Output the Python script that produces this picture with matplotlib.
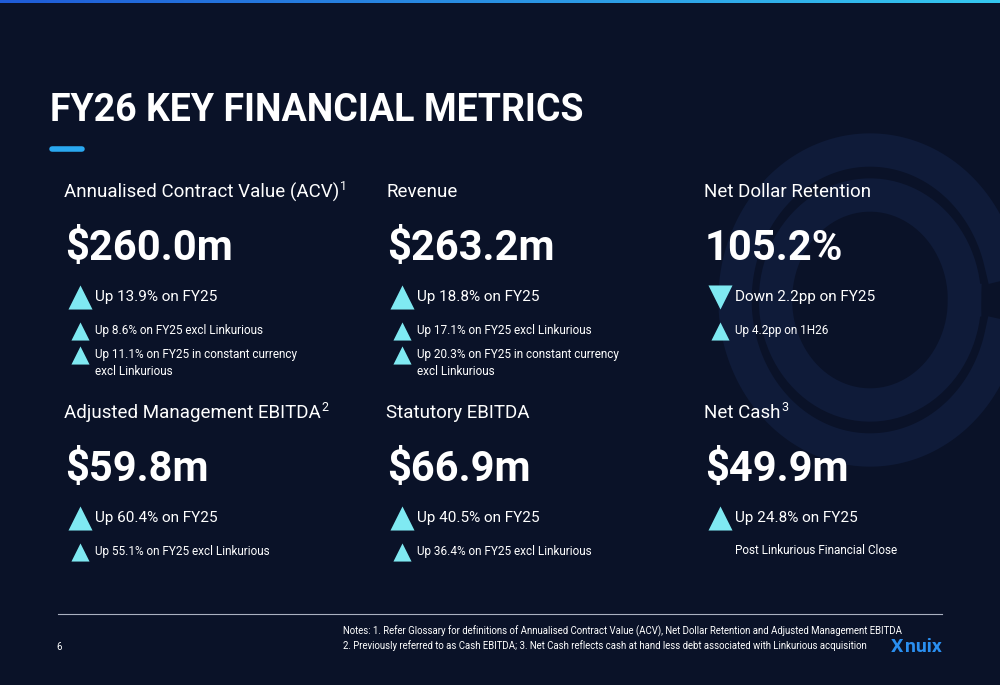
import matplotlib.pyplot as plt
import numpy as np

plt.rcParams['font.family'] = ['Roboto', 'DejaVu Sans']

bg = '#0a1228'
cyan = '#7fe9f2'
white = '#ffffff'

# ------- slide content --------
# each column: (x, y, title, superscript, headline, [(direction, size, text, sub text)])
metrics = [
  (64, 192, 'Annualised Contract Value (ACV)', '1', '$260.0m',
   [('up', 'big', 'Up 13.9% on FY25', ''),
    ('up', 'small', 'Up 8.6% on FY25 excl Linkurious', ''),
    ('up', 'small', 'Up 11.1% on FY25 in constant currency', 'excl Linkurious')]),
  (386, 192, 'Revenue', '', '$263.2m',
   [('up', 'big', 'Up 18.8% on FY25', ''),
    ('up', 'small', 'Up 17.1% on FY25 excl Linkurious', ''),
    ('up', 'small', 'Up 20.3% on FY25 in constant currency', 'excl Linkurious')]),
  (704, 192, 'Net Dollar Retention', '', '105.2%',
   [('down', 'big', 'Down 2.2pp on FY25', ''),
    ('up', 'small', 'Up 4.2pp on 1H26', '')]),
  (64, 413, 'Adjusted Management EBITDA', '2', '$59.8m',
   [('up', 'big', 'Up 60.4% on FY25', ''),
    ('up', 'small', 'Up 55.1% on FY25 excl Linkurious', '')]),
  (386, 413, 'Statutory EBITDA', '', '$66.9m',
   [('up', 'big', 'Up 40.5% on FY25', ''),
    ('up', 'small', 'Up 36.4% on FY25 excl Linkurious', '')]),
  (704, 413, 'Net Cash', '3', '$49.9m',
   [('up', 'big', 'Up 24.8% on FY25', ''),
    ('none', 'small', 'Post Linkurious Financial Close', '')]),
]

fig = plt.figure(figsize=(10, 6.85), dpi=100, facecolor=bg)
ax = fig.add_axes([0, 0, 1, 1])
ax.set_xlim(0, 1000)
ax.set_ylim(685, 0)
ax.set_facecolor(bg)
ax.axis('off')

# top gradient bar
grad = np.linspace(0, 1, 256).reshape(1, -1)
ax.imshow(grad, extent=[0, 1000, 3, 0], cmap=plt.matplotlib.colors.LinearSegmentedColormap.from_list('g', ['#1f5bd8', '#35c8f0']), aspect='auto')
ax.set_xlim(0, 1000)
ax.set_ylim(685, 0)

# faint background logo
for r in [150, 105]:
  t = np.linspace(0, 2*np.pi, 200)
  ax.plot(870 + r*np.cos(t)*0.9, 300 + r*np.sin(t), color='#14244a', lw=24, alpha=0.5, zorder=0)

ax.text(50, 110, 'FY26 KEY FINANCIAL METRICS', color=white, fontsize=27, fontweight='bold', va='center')
ax.plot([52, 82], [149, 149], color='#2aa8f0', lw=4, solid_capstyle='round')

fig.canvas.draw()
for x, y, title, sup, head, lines in metrics:
  t = ax.text(x, y, title, color=white, fontsize=13.5, va='center')
  if sup:
    bb = t.get_window_extent(renderer=fig.canvas.get_renderer()).transformed(ax.transData.inverted())
    ax.text(bb.x1 + 1, y - 6, sup, color=white, fontsize=9, va='center')
  ax.text(x + 1, y + 56, head, color=white, fontsize=30, fontweight='bold', va='center')
  ly = y + 105
  for direction, size, txt, sub in lines:
    if size == 'big':
      if direction != 'none':
        ax.scatter(x + 16, ly, marker='^' if direction == 'up' else 'v', s=300, color=cyan, linewidths=0)
      ax.text(x + 31, ly, txt, color=white, fontsize=11, va='center')
      ly += 33
    else:
      if direction != 'none':
        ax.scatter(x + 16, ly + 1, marker='^', s=170, color=cyan, linewidths=0)
      ax.text(x + 31, ly, txt, color=white, fontsize=8.5, va='center')
      ly += 24
      if sub:
        ax.text(x + 31, ly - 7, sub, color=white, fontsize=8.5, va='center')

# footer
ax.plot([58, 942], [614, 614], color='#aab0c0', lw=0.8)
ax.text(56, 647, '6', color=white, fontsize=7, va='center')
ax.text(343, 631, 'Notes: 1. Refer Glossary for definitions of Annualised Contract Value (ACV), Net Dollar Retention and Adjusted Management EBITDA',
        color=white, fontsize=6.9, va='center')
ax.text(343, 646, '2. Previously referred to as Cash EBITDA; 3. Net Cash reflects cash at hand less debt associated with Linkurious acquisition',
        color=white, fontsize=6.9, va='center')
ax.text(891, 647, 'X', color='#2a8ff0', fontsize=14, fontweight='bold', va='center')
ax.text(905, 647, 'nuix', color='#2a8ff0', fontsize=14, fontweight='bold', va='center')

plt.savefig('out.png', dpi=100, facecolor=bg)
